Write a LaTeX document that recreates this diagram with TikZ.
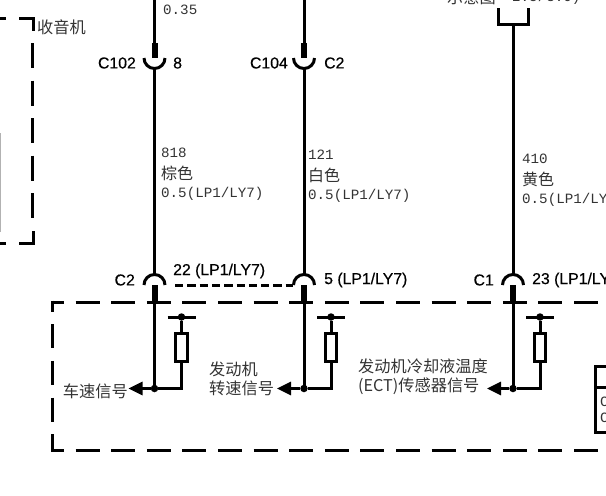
\documentclass[tikz,border=0pt]{standalone}
\usepackage{fontspec}
\setmainfont{Liberation Sans}
\newfontfamily\cjk{Noto Sans CJK SC}
\newfontfamily\wirefont{Liberation Mono}
\newfontfamily\pinfont[FakeBold=0.4]{Liberation Sans}
\usetikzlibrary{arrows.meta,positioning,calc}
\definecolor{inkblack}{HTML}{000000}
\definecolor{labelgray}{HTML}{333333}
\newcommand{\cjklab}[1]{{\cjk\fontsize{16}{20}\selectfont\raisebox{-2pt}{#1}}}
\begin{document}
\begin{tikzpicture}[x=1pt,y=-1pt,
    wire/.style={line width=3pt,inkblack},
    box/.style={line width=3pt,dash pattern=on 24pt off 11.6pt,dash phase=12pt,inkblack},
    pin/.style={inner sep=0pt,font=\pinfont\fontsize{15.8}{18}\selectfont,inkblack},
    wirelabel/.style={inner sep=0pt,anchor=north west,align=left,text=labelgray,font=\wirefont\fontsize{14.2}{20}\selectfont},
    modlabel/.style={inner sep=0pt,text=labelgray,font=\cjk\fontsize{16.2}{19.5}\selectfont},
    res/.style={draw,line width=2.7pt,fill=white,minimum width=11.5pt,minimum height=28.5pt,inner sep=0pt},
    dot/.style={circle,fill=inkblack,inner sep=0pt,minimum size=7.5pt}]
    \useasboundingbox (0,0) rectangle (606,496);
    % module frames
    \draw[box] (52,302) -- (606,302);
    \draw[box] (52,450) -- (606,450);
    \draw[box,dash pattern=on 24pt off 12.7pt,dash phase=13pt] (52,300.5) -- (52,451.5);
    \draw[wire] (19,18) -- (33,18) -- (33,31);
    \draw[box,dash pattern=on 25pt off 12.5pt,dash phase=0pt] (32,43) -- (32,225);
    \draw[wire] (19,243) -- (33,243) -- (33,231);
    \draw[wire] (0,18) -- (6,18);
    \draw[wire] (0,243) -- (6,243);
    \draw[gray!60,line width=1pt] (0,133) -- (0,232);
    \node[modlabel,anchor=west] (radio) at (37,27) {收音机};
    % wires, left to right
    \foreach \n/\x in {a/154.5,b/304,c/513} {
      \coordinate (top\n) at (\x,0);
      \coordinate (bot\n) at (\x,388.5);
    }
    \foreach \n/\x in {a/154.5,b/304} {
      \coordinate (cup\n) at (\x,69);
      \draw[wire] (top\n) -- (\x,52);
      \draw[line width=6pt] (\x,43) -- (\x,58);
      \draw[wire] (\x-10.5,58) arc[start angle=180,end angle=0,radius=10.5];
      \draw[wire] (cup\n) -- (\x,274);
    }
    \draw[wire] (498,8) -- (498,24) -- (528,24) -- (528,8);
    \draw[wire] (513,24) -- (513,274);
    \foreach \n/\x in {a/154.5,b/304,c/513} {
      \draw[wire] (\x-10.5,285) arc[start angle=180,end angle=360,radius=10.5];
      \draw[line width=6pt] (\x,285) -- (\x,303);
      \draw[wire] (\x,303) -- (bot\n);
      \node[dot] (j\n) at (bot\n) {};
      \coordinate (r\n) at (\x+27,388.5);
      \node[res] (res\n) at (\x+27,347.5) {};
      \node[dot] (gnd\n) at (\x+27,317) {};
      \draw[wire] (\x+13,317) -- (\x+41,317);
      \draw[wire] (gnd\n) -- (res\n);
      \draw[wire] (res\n) -- (r\n) -- (j\n);
    }
    \draw[wire,dash pattern=on 8.3pt off 4pt] (175,285) -- (293,285);
    % signal arrows
    \node[modlabel,anchor=east] (sig1) at (128,391) {车速信号};
    \node[modlabel,align=left,anchor=west] (sig2) at (209,379) {发动机\\转速信号};
    \node[modlabel,align=left,anchor=west] (sig3) at (358,376.5) {发动机冷却液温度\\(ECT)传感器信号};
    \coordinate (tipa) at (128.5,388.5);
    \coordinate (tipb) at (277,388.5);
    \coordinate (tipc) at (487,388.5);
    \draw[-{Triangle[length=14pt,width=13pt]},wire] (ja) -- (tipa);
    \draw[-{Triangle[length=14pt,width=13pt]},wire] (jb) -- (tipb);
    \draw[-{Triangle[length=14pt,width=13pt]},wire] (jc) -- (tipc);
    % connector labels
    \node[pin,anchor=east] (c102) at (136,63) {C102};
    \node[pin,anchor=west] (p8) at (173,63) {8};
    \node[pin,anchor=east] (c104) at (288,63) {C104};
    \node[pin,anchor=west] (pc2) at (324,63) {C2};
    \node[pin,anchor=east] (c2) at (135,280) {C2};
    \node[pin,anchor=west] (p22) at (173,271) {22 (LP1/LY7)};
    \node[pin,anchor=west] (p5) at (324,280) {5 (LP1/LY7)};
    \node[pin,anchor=east] (c1) at (494,280) {C1};
    \node[pin,anchor=west] (p23) at (532,280) {23 (LP1/LY7)};
    % wire labels
    \node[wirelabel,anchor=west] (w035) at (163,10) {0.35};
    \node[wirelabel] (w818) at (161,148) {818\\\cjklab{棕色}\\0.5(LP1/LY7)};
    \node[wirelabel] (w121) at (308,150) {121\\\cjklab{白色}\\0.5(LP1/LY7)};
    \node[wirelabel] (w410) at (522,154) {410\\\cjklab{黄色}\\0.5(LP1/LY7)};
    \node[modlabel,anchor=west] (note) at (447,-3) {示意图};
    \node[wirelabel,anchor=west] (wsz) at (512,-2) {2.5/3.0)};
    % right box
    \draw[wire] (606,366) -- (595.5,366) -- (595.5,432) -- (606,432);
    \draw[wire] (595.5,387) -- (606,387);
    \node[wirelabel,anchor=west] (bx1) at (600,402) {C};
    \node[wirelabel,anchor=west] (bx2) at (600,418) {C};
  \end{tikzpicture}
\end{document}
